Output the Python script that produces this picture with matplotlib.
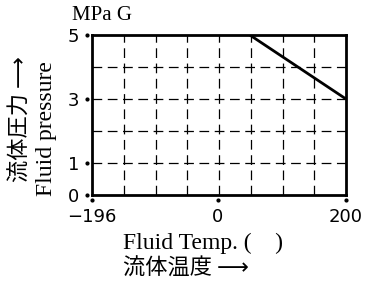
import matplotlib
matplotlib.use('Agg')
import matplotlib.pyplot as plt
import numpy as np

plt.rcParams['lines.scale_dashes'] = False

# limit line (temp vs. pressure)
temp = [50, 200]
pressure = [5, 3]

x_ticks = [-196, 0, 200]
x_tick_labels = ['\u2212196', '0', '200']
y_ticks = [0, 1, 3, 5]
y_tick_labels = ['0', '1', '3', '5']
y_grid = [1, 2, 3, 4]
x_grid = np.linspace(-196, 200, 9)[1:-1]

serif = 'Liberation Serif'
cjk = ['Noto Sans CJK JP', 'DejaVu Sans']

fig = plt.figure(figsize=(3.66, 2.82), dpi=100)
ax = fig.add_axes([0.2514, 0.3085, 0.6940, 0.5674])

for y in y_grid:
    ax.axhline(y, color='black', lw=0.9, ls=(0, (7, 4)))
for x in x_grid:
    ax.axvline(x, color='black', lw=0.9, ls=(0, (7, 4)))

ax.plot(temp, pressure, color='black', lw=2.0, solid_capstyle='butt')

ax.set_xlim(-196, 200)
ax.set_ylim(0, 5)
ax.set_xticks(x_ticks)
ax.set_xticklabels(x_tick_labels)
ax.set_yticks(y_ticks)
ax.set_yticklabels(y_tick_labels)
ax.tick_params(length=0, labelsize=13)
ax.tick_params(axis='x', pad=9)
ax.tick_params(axis='y', pad=9)
for s in ax.spines.values():
    s.set_linewidth(2.0)

# dotted tick marks sitting just off the axes
ax.plot(x_ticks, [-0.03] * len(x_ticks), 'o', color='black', ms=2,
        transform=ax.get_xaxis_transform(), clip_on=False)
ax.plot([-0.02] * len(y_ticks), y_ticks, 'o', color='black', ms=2,
        transform=ax.get_yaxis_transform(), clip_on=False)

fig.text(0.197, 0.945, 'MPa G', family=serif, fontsize=15, ha='left', va='center')
fig.text(0.126, 0.544, 'Fluid pressure', family=serif, fontsize=17,
         rotation=90, ha='center', va='center')
fig.text(0.056, 0.578, '流体圧力 \u27f6', family=cjk, fontsize=16,
         rotation=90, ha='center', va='center')
fig.text(0.336, 0.138, 'Fluid Temp. (    )', family=serif, fontsize=17,
         ha='left', va='center')
fig.text(0.336, 0.05, '流体温度 \u27f6', family=cjk, fontsize=16,
         ha='left', va='center')

fig.savefig('out.png', dpi=100)
